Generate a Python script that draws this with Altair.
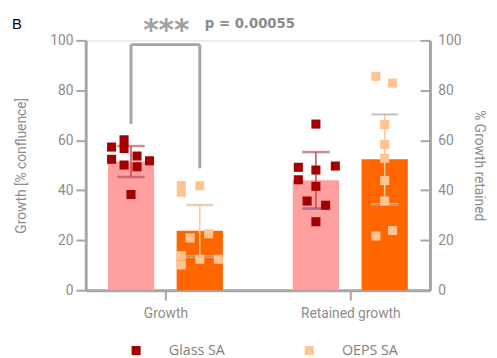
import altair as alt
import pandas as pd

categories = ["Growth", "Retained growth"]
groups = ["Glass SA", "OEPS SA"]

# bar heights (mean) and SD per category
glass_mean = [51.5, 44.0]
glass_sd = [6.2, 11.3]
oeps_mean = [23.8, 52.4]
oeps_sd = [10.3, 18.0]

# individual replicates per category, with column jitter (fraction of bar width)
glass_growth = [57.3, 60.2, 56.7, 52.4, 50.1, 53.7, 49.4, 51.8, 38.3]
glass_growth_jit = [-0.42, -0.15, -0.15, -0.42, -0.15, 0.13, 0.13, 0.40, 0.0]
oeps_growth = [41.9, 39.2, 41.8, 20.9, 22.6, 13.8, 10.1, 12.4, 12.4]
oeps_growth_jit = [-0.40, -0.40, 0.0, -0.21, 0.19, -0.40, -0.40, 0.0, 0.40]
glass_ret = [66.5, 49.2, 48.1, 49.7, 44.2, 41.6, 35.7, 34.0, 27.4]
glass_ret_jit = [0.0, -0.38, 0.0, 0.42, -0.38, 0.0, -0.19, 0.21, 0.0]
oeps_ret = [85.6, 82.9, 66.3, 58.3, 52.8, 43.9, 35.7, 21.7, 23.9]
oeps_ret_jit = [-0.19, 0.17, 0.0, 0.0, 0.0, 0.0, 0.0, -0.19, 0.17]

y_ticks = [0, 20, 40, 60, 80, 100]

GROUP_SHIFT = {"Glass SA": -0.186, "OEPS SA": 0.186}
BAR_W_UNITS = 0.25

bars = []
for g, means, sds in [("Glass SA", glass_mean, glass_sd), ("OEPS SA", oeps_mean, oeps_sd)]:
    for ci, c in enumerate(categories):
        m, s = means[ci], sds[ci]
        bars.append({"cat": c, "group": g, "xpos": ci + GROUP_SHIFT[g],
                     "mean": m, "lo": m - s, "hi": m + s})
bar_df = pd.DataFrame(bars)

pts = []
for g, ci, vals, jits in [("Glass SA", 0, glass_growth, glass_growth_jit),
                          ("OEPS SA", 0, oeps_growth, oeps_growth_jit),
                          ("Glass SA", 1, glass_ret, glass_ret_jit),
                          ("OEPS SA", 1, oeps_ret, oeps_ret_jit)]:
    for v, j in zip(vals, jits):
        pts.append({"group": g, "cat": categories[ci],
                    "xpos": ci + GROUP_SHIFT[g] + j * BAR_W_UNITS, "value": v})
pt_df = pd.DataFrame(pts)

bx0, bx1 = GROUP_SHIFT["Glass SA"], GROUP_SHIFT["OEPS SA"]
bracket_df = pd.DataFrame([
    {"x": bx0, "x2": bx0, "y": 66.5, "y2": 98.3},
    {"x": bx0, "x2": bx1, "y": 98.3, "y2": 98.3},
    {"x": bx1, "x2": bx1, "y": 48.8, "y2": 98.3},
])
stars_df = pd.DataFrame([{"x": 0.005, "y": 103.6, "t": "***"}])
p_df = pd.DataFrame([{"x": 0.213, "y": 106.5, "t": "p = 0.00055"}])

GRAY = "#A6A6A6"
LBL = "#8C8C8C"
FONT = "Roboto"

xscale = alt.Scale(domain=[-0.431, 1.431], nice=False, zero=False, padding=0)
yscale = alt.Scale(domain=[0, 100], nice=False, padding=0)

label_expr = "datum.value < 0.5 ? '%s' : '%s'" % (categories[0], categories[1])

x_axis = alt.Axis(orient="bottom", values=[0, 1], labelExpr=label_expr, title=None, grid=False,
                  domainColor=GRAY, domainWidth=3, tickColor=GRAY, tickWidth=2,
                  tickSize=10, labelFontSize=14, labelColor=LBL, labelFont=FONT,
                  labelPadding=7)
y_axis = alt.Axis(orient="left", values=y_ticks, title="Growth [% confluence]", grid=False,
                  domainColor=GRAY, domainWidth=3, tickColor=GRAY, tickWidth=2,
                  tickSize=10, labelFontSize=14, labelColor=LBL, labelFont=FONT,
                  labelPadding=3, titleFont=FONT, titleFontSize=14, titleColor=LBL,
                  titleFontWeight="normal", titlePadding=22)

bar_fill = alt.Scale(domain=groups, range=["#FF9F9F", "#FF6600"])
pt_color = alt.Scale(domain=groups, range=["#A50000", "#FFC48F"])
err_color = alt.Scale(domain=groups, range=["#C24A4A", "#FFC896"])

XN = dict(scale=xscale, axis=None)
YN = dict(scale=yscale, axis=None)

bar_layer = alt.Chart(bar_df).mark_bar(size=47).encode(
    x=alt.X("xpos:Q", scale=xscale, axis=x_axis),
    y=alt.Y("mean:Q", scale=yscale, axis=y_axis),
    fill=alt.Fill("group:N", scale=bar_fill, legend=None),
)

err_rule = alt.Chart(bar_df).mark_rule(strokeWidth=1.5).encode(
    x=alt.X("xpos:Q", **XN), y=alt.Y("lo:Q", **YN), y2="hi:Q",
    stroke=alt.Stroke("group:N", scale=err_color, legend=None),
)
cap_lo = alt.Chart(bar_df).mark_tick(orient="horizontal", size=27, thickness=1.5).encode(
    x=alt.X("xpos:Q", **XN), y=alt.Y("lo:Q", **YN),
    stroke=alt.Stroke("group:N", scale=err_color, legend=None),
)
cap_hi = alt.Chart(bar_df).mark_tick(orient="horizontal", size=27, thickness=1.5).encode(
    x=alt.X("xpos:Q", **XN), y=alt.Y("hi:Q", **YN),
    stroke=alt.Stroke("group:N", scale=err_color, legend=None),
)

point_layer = alt.Chart(pt_df).mark_square(size=85, opacity=1).encode(
    x=alt.X("xpos:Q", **XN), y=alt.Y("value:Q", **YN),
    color=alt.Color("group:N", scale=pt_color, legend=alt.Legend(
        title=None, orient="none", legendX=44, legendY=308, direction="horizontal",
        symbolType="square", symbolSize=85, symbolStrokeWidth=0, labelFontSize=14.5,
        labelColor="#7F7F7F", labelFont="Open Sans", labelOffset=26, columnPadding=78,
        padding=0)),
)

bracket = alt.Chart(bracket_df).mark_rule(color=GRAY, strokeWidth=3).encode(
    x=alt.X("x:Q", **XN), x2="x2:Q", y=alt.Y("y:Q", **YN), y2="y2:Q",
)
stars = alt.Chart(stars_df).mark_text(fontSize=30, fontWeight="bold", color="#A0A0A0",
                                      font="DejaVu Sans", baseline="middle", align="center").encode(
    x=alt.X("x:Q", **XN), y=alt.Y("y:Q", **YN), text="t:N")
ptext = alt.Chart(p_df).mark_text(fontSize=13.5, fontWeight="bold", color="#8C8C8C",
                                  font="DejaVu Sans", baseline="middle", align="left").encode(
    x=alt.X("x:Q", **XN), y=alt.Y("y:Q", **YN), text="t:N")
panel_label = alt.Chart(p_df).mark_text(fontSize=15, color="#000000", font="Liberation Sans",
                                        baseline="middle", align="left").encode(
    x=alt.value(-75), y=alt.value(-17), text=alt.value("B"))

right_axis = alt.Chart(bar_df).mark_point(opacity=0).encode(
    y=alt.Y("mean:Q", scale=yscale, axis=alt.Axis(
        orient="right", values=y_ticks, title="% Growth retained", grid=False,
        domainColor=GRAY, domainWidth=3, ticks=False, labelFontSize=14, labelColor=LBL,
        labelFont=FONT, labelPadding=8, titleFont=FONT, titleFontSize=14, titleColor=LBL,
        titleFontWeight="normal", titlePadding=11)),
)
inner_ticks = alt.Chart(bar_df).mark_point(opacity=0).encode(
    y=alt.Y("mean:Q", scale=yscale, axis=alt.Axis(
        orient="left", offset=-350, values=y_ticks, title=None, grid=False,
        domain=False, labels=False, tickColor=GRAY, tickWidth=2, tickSize=10)),
)

chart = alt.layer(
    bar_layer, err_rule, cap_lo, cap_hi, point_layer, bracket, stars, ptext, panel_label,
    right_axis, inner_ticks
).resolve_axis(x="independent", y="independent").resolve_legend(
    color="independent"
).properties(
    width=350, height=254,
    autosize=alt.AutoSizeParams(type="none"),
    padding={"left": 79, "top": 30, "right": 60, "bottom": 66},
).configure_view(strokeWidth=0).configure(background="white")

chart.save("out.html", embed_options={"renderer": "svg", "actions": False})
